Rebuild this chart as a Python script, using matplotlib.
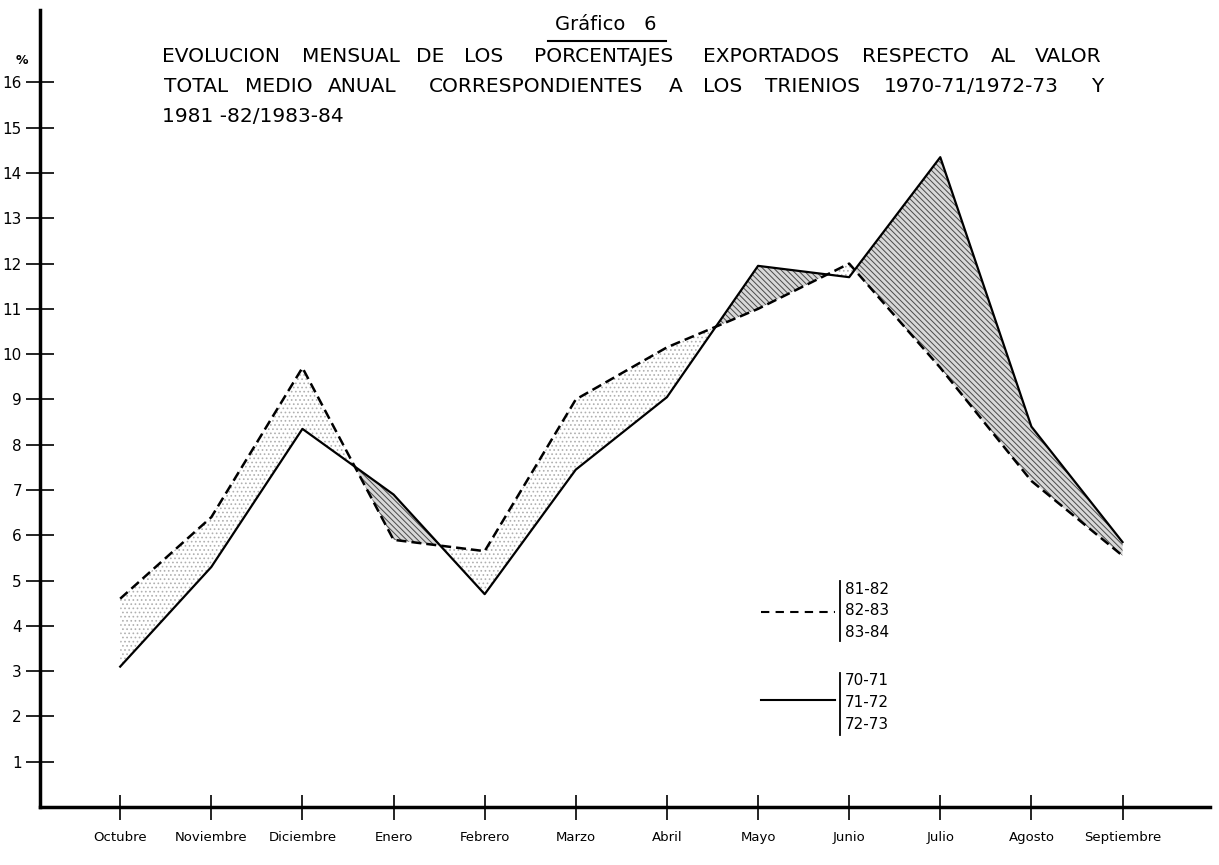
import matplotlib
matplotlib.use("Agg")
import matplotlib.pyplot as plt
import numpy as np

months = ["Octubre", "Noviembre", "Diciembre", "Enero", "Febrero", "Marzo",
          "Abril", "Mayo", "Junio", "Julio", "Agosto", "Septiembre"]
serie_81_84 = [4.6, 6.4, 9.7, 5.9, 5.65, 9.0, 10.15, 11.0, 12.0, 9.7, 7.2, 5.55]
serie_70_73 = [3.1, 5.3, 8.35, 6.9, 4.7, 7.45, 9.05, 11.95, 11.7, 14.35, 8.4, 5.85]
yticks = list(range(1, 17))
legend_dashed = ["81-82", "82-83", "83-84"]
legend_solid = ["70-71", "71-72", "72-73"]

title_line1 = ["EVOLUCION", "MENSUAL", "DE", "LOS", "PORCENTAJES", "EXPORTADOS",
               "RESPECTO", "AL", "VALOR"]
title_line2 = ["TOTAL", "MEDIO", "ANUAL", "CORRESPONDIENTES", "A", "LOS",
               "TRIENIOS", "1970-71/1972-73", "Y"]
title_line3 = ["1981 -82/1983-84"]

plt.rcParams['font.family'] = ['DejaVu Sans']
plt.rcParams['hatch.linewidth'] = 0.7

fig = plt.figure(figsize=(12.19, 8.65), dpi=100)
ax = fig.add_axes([40/1219, 58/865, (1210-40)/1219, (807-10)/865])

x = np.arange(len(months))
a = np.array(serie_81_84)
b = np.array(serie_70_73)

# stippled area where dashed above solid
ax.fill_between(x, a, b, where=a >= b, interpolate=True, facecolor='none',
                edgecolor='#b0b0b0', hatch='....', linewidth=0)
# hatched area where solid above dashed
ax.fill_between(x, a, b, where=b >= a, interpolate=True, facecolor='#d8d8d8',
                edgecolor='#4a4a4a', hatch='\\\\\\\\\\\\', linewidth=0)

ax.plot(x, a, color='black', lw=1.8, linestyle=(0, (4, 2)))
ax.plot(x, b, color='black', lw=1.6)

ax.set_xlim(-0.88, 11.96)
ax.set_ylim(0, 17.6)

for s in ['top', 'right']:
    ax.spines[s].set_visible(False)
for s in ['left', 'bottom']:
    ax.spines[s].set_linewidth(2.5)

ax.set_yticks(yticks)
ax.set_yticklabels([str(t) for t in yticks], fontsize=11)
ax.set_xticks(x)
ax.set_xticklabels(months, fontsize=9.5)
ax.tick_params(axis='y', direction='inout', length=20, width=1.2, pad=3)
ax.tick_params(axis='x', direction='inout', length=18, width=1.2, pad=8)

fig.text(16/1219, 1-60/865, "%", fontsize=9, fontweight='bold', ha='left', va='center')

# titles
fig.text(606/1219, 1-24/865, "Gráfico   6", fontsize=14, ha='center', va='center')
fig.add_artist(plt.Line2D([548/1219, 666/1219], [1-41/865, 1-41/865], color='black', lw=1.5))
centers1 = [221, 351, 430, 484, 604, 771, 915, 1003, 1068]
centers2 = [196, 279, 362, 536, 676, 723, 812, 971, 1097]
for words, centers, yy in [(title_line1, centers1, 57), (title_line2, centers2, 87)]:
    for w, xc in zip(words, centers):
        fig.text(xc/1219, 1-yy/865, w, fontsize=14.5, ha='center', va='center')
fig.text(162/1219, 1-117/865, title_line3[0], fontsize=14.5, ha='left', va='center')

# custom legend in data coordinates
ax.plot([7.03, 7.85], [4.30, 4.30], color='black', lw=1.5, linestyle=(0, (4, 3)), clip_on=False)
ax.plot([7.90, 7.90], [3.66, 4.99], color='black', lw=1.3)
for lab, yy in zip(legend_dashed, [4.81, 4.35, 3.86]):
    ax.text(7.95, yy, lab, fontsize=11, ha='left', va='center')
ax.plot([7.03, 7.85], [2.37, 2.37], color='black', lw=1.5)
ax.plot([7.90, 7.90], [1.60, 2.95], color='black', lw=1.3)
for lab, yy in zip(legend_solid, [2.79, 2.31, 1.82]):
    ax.text(7.95, yy, lab, fontsize=11, ha='left', va='center')

fig.savefig("out.png", dpi=100)
